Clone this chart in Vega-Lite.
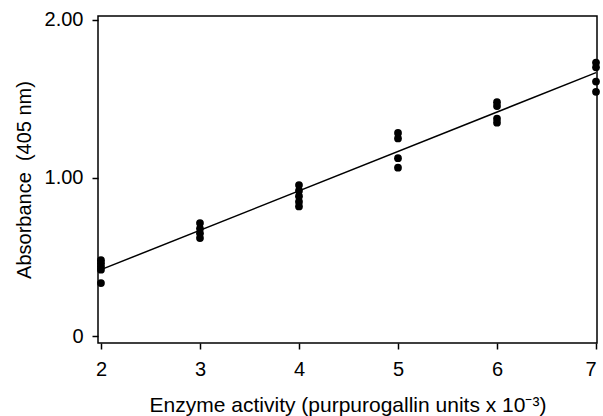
{
  "$schema": "https://vega.github.io/schema/vega-lite/v6.json",
  "width": 499,
  "height": 327,
  "autosize": {"type": "none"},
  "padding": {"left": 98, "top": 16, "right": 6, "bottom": 73},
  "background": "white",
  "config": {
    "font": "Liberation Sans",
    "view": {"stroke": "black", "strokeWidth": 1.5},
    "axis": {
      "grid": false,
      "domain": false,
      "tickColor": "black",
      "tickWidth": 1.5,
      "tickSize": 6,
      "labelColor": "black",
      "labelFont": "Liberation Sans",
      "labelFontSize": 20,
      "titleFont": "Liberation Sans",
      "titleFontSize": 20,
      "titleFontWeight": "normal",
      "titleColor": "black"
    }
  },
  "datasets": {
    "points": [
      {"activity": 2, "absorbance": 0.48},
      {"activity": 2, "absorbance": 0.46},
      {"activity": 2, "absorbance": 0.44},
      {"activity": 2, "absorbance": 0.42},
      {"activity": 2, "absorbance": 0.335},
      {"activity": 3, "absorbance": 0.715},
      {"activity": 3, "absorbance": 0.68},
      {"activity": 3, "absorbance": 0.65},
      {"activity": 3, "absorbance": 0.62},
      {"activity": 4, "absorbance": 0.955},
      {"activity": 4, "absorbance": 0.92},
      {"activity": 4, "absorbance": 0.885},
      {"activity": 4, "absorbance": 0.85},
      {"activity": 4, "absorbance": 0.82},
      {"activity": 5, "absorbance": 1.285},
      {"activity": 5, "absorbance": 1.25},
      {"activity": 5, "absorbance": 1.125},
      {"activity": 5, "absorbance": 1.065},
      {"activity": 6, "absorbance": 1.48},
      {"activity": 6, "absorbance": 1.455},
      {"activity": 6, "absorbance": 1.375},
      {"activity": 6, "absorbance": 1.35},
      {"activity": 7, "absorbance": 1.73},
      {"activity": 7, "absorbance": 1.70},
      {"activity": 7, "absorbance": 1.61},
      {"activity": 7, "absorbance": 1.545}
    ],
    "fit": [
      {"activity": 2, "absorbance": 0.42},
      {"activity": 7, "absorbance": 1.667}
    ]
  },
  "encoding": {
    "x": {
      "field": "activity",
      "type": "quantitative",
      "scale": {"domain": [1.97, 7.01], "nice": false, "zero": false},
      "axis": {
        "values": [2, 3, 4, 5, 6, 7],
        "labelPadding": 10,
        "title": "Enzyme activity (purpurogallin units x 10⁻³)",
        "titleFontSize": 21,
        "titlePadding": 15
      }
    },
    "y": {
      "field": "absorbance",
      "type": "quantitative",
      "scale": {"domain": [-0.044, 2.025], "nice": false, "zero": false},
      "axis": {
        "values": [0, 1, 2],
        "labelExpr": "datum.value == 0 ? '0' : format(datum.value, '.2f')",
        "labelPadding": 9,
        "title": "Absorbance\u00a0\u00a0(405 nm)",
        "titlePadding": 10
      }
    }
  },
  "layer": [
    {
      "data": {"name": "fit"},
      "mark": {"type": "line", "color": "black", "strokeWidth": 1.5}
    },
    {
      "data": {"name": "points"},
      "mark": {"type": "circle", "color": "black", "opacity": 1, "size": 60}
    }
  ]
}
